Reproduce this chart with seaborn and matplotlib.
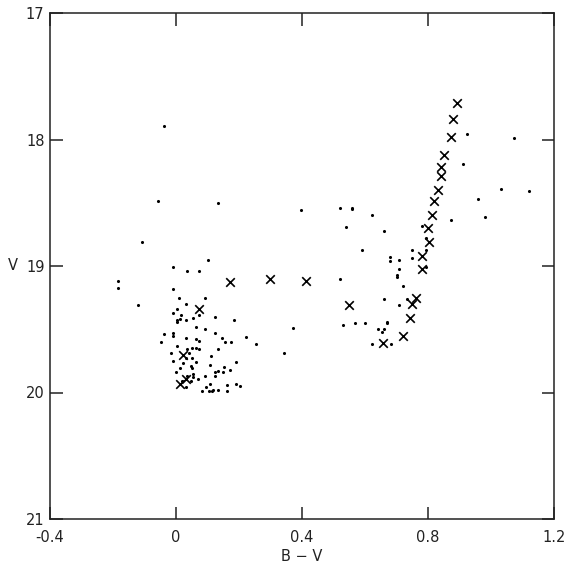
import pandas as pd
import seaborn as sns
import matplotlib
matplotlib.use("Agg")
import matplotlib.pyplot as plt

# crosses (B-V, V)
cross_bv = [0.893, 0.880, 0.872, 0.851, 0.841, 0.841, 0.831, 0.820, 0.812, 0.801,
            0.803, 0.782, 0.782, 0.762, 0.748, 0.743, 0.720, 0.658, 0.549, 0.413,
            0.298, 0.171, 0.073, 0.021, 0.032, 0.013]
cross_v = [17.71, 17.84, 17.98, 18.12, 18.22, 18.29, 18.40, 18.49, 18.60, 18.70,
           18.81, 18.92, 19.02, 19.25, 19.30, 19.41, 19.55, 19.61, 19.31, 19.12,
           19.10, 19.13, 19.34, 19.70, 19.89, 19.93]

# dots, blue end / turnoff region
dot_bv_a = [0.103, -0.009, 0.034, 0.074, -0.009, 0.092, 0.010, -0.120, 0.031, 0.002,
            0.073, -0.009, 0.015, 0.124, 0.053, 0.002, 0.002, 0.013, 0.032, 0.184,
            0.063, 0.092, -0.037, -0.009, -0.009, 0.124, 0.032, 0.063, 0.073, 0.145,
            0.222, -0.048, 0.156, 0.174, 0.253, 0.002, 0.050, 0.063, 0.073, 0.034,
            0.133, -0.017, 0.042, 0.111, 0.032, 0.050, -0.009, 0.192, 0.023, 0.063,
            0.048, 0.050, 0.013, 0.108, 0.153, 0.171, 0.134, 0.150, 0.124, 0.000,
            0.053, 0.053, 0.034, 0.092, 0.124, 0.069, 0.048, 0.018, 0.161, 0.192,
            0.203, 0.108, 0.031, 0.095, 0.082, 0.106, 0.113, 0.118, 0.134, 0.161]
dot_v_a = [18.95, 19.01, 19.04, 19.04, 19.18, 19.25, 19.25, 19.31, 19.30, 19.34,
           19.39, 19.37, 19.39, 19.40, 19.41, 19.43, 19.44, 19.42, 19.43, 19.43,
           19.48, 19.50, 19.54, 19.53, 19.55, 19.53, 19.57, 19.58, 19.59, 19.57,
           19.56, 19.60, 19.60, 19.60, 19.62, 19.63, 19.65, 19.65, 19.66, 19.66,
           19.66, 19.69, 19.69, 19.71, 19.73, 19.73, 19.75, 19.76, 19.77, 19.76,
           19.79, 19.81, 19.81, 19.78, 19.80, 19.82, 19.83, 19.84, 19.84, 19.84,
           19.85, 19.88, 19.87, 19.87, 19.87, 19.89, 19.91, 19.91, 19.94, 19.93,
           19.95, 19.93, 19.96, 19.96, 19.99, 19.99, 19.99, 19.98, 19.98, 19.99]

# dots, horizontal branch, giants, field
dot_bv_b = [-0.038, -0.058, 0.134, -0.109, -0.184, -0.184, 0.397, 0.371, 0.343,
            0.960, 0.520, 0.559, 0.559, 0.621, 0.781, 0.872, 0.540, 0.660, 0.793,
            0.590, 0.750, 0.794, 0.750, 0.679, 0.679, 0.709, 0.709, 0.793, 0.701,
            0.701, 0.520, 0.721, 0.660, 0.732, 0.709, 0.531, 0.568, 0.600, 0.671,
            0.671, 0.642, 0.660, 0.653, 0.621, 0.682,
            0.923, 1.074, 0.912, 1.031, 1.122, 0.982]
dot_v_b = [17.89, 18.49, 18.50, 18.81, 19.12, 19.17, 18.56, 19.49, 19.69,
           18.47, 18.54, 18.54, 18.55, 18.60, 18.68, 18.64, 18.69, 18.72, 18.78,
           18.87, 18.87, 18.87, 18.94, 18.93, 18.96, 18.95, 19.02, 19.01, 19.07,
           19.09, 19.10, 19.16, 19.26, 19.26, 19.31, 19.47, 19.45, 19.45, 19.44,
           19.45, 19.50, 19.50, 19.52, 19.62, 19.62,
           17.96, 17.99, 18.19, 18.39, 18.41, 18.61]

xticks = [-0.4, 0, 0.4, 0.8, 1.2]
xlabels = ["-0.4", "0", "0.4", "0.8", "1.2"]
yticks = [17, 18, 19, 20, 21]

dots = pd.DataFrame({"bv": dot_bv_a + dot_bv_b, "v": dot_v_a + dot_v_b})
crosses = pd.DataFrame({"bv": cross_bv, "v": cross_v})

sns.set_style("ticks")
plt.rcParams["font.family"] = ["DejaVu Sans"]

fig = plt.figure(figsize=(5.7, 5.67), dpi=100)
ax = fig.add_axes([50 / 570, 48 / 567, 504 / 570, 506 / 567])

sns.scatterplot(data=dots, x="bv", y="v", ax=ax, color="black", marker="o",
                s=5, linewidth=0)
sns.scatterplot(data=crosses, x="bv", y="v", ax=ax, color="black", marker="x",
                s=38, linewidth=1.2)

ax.set_xlim(-0.4, 1.2)
ax.set_ylim(21, 17)
ax.set_xticks(xticks)
ax.set_xticklabels(xlabels)
ax.set_yticks(yticks)
ax.tick_params(direction="in", length=9, width=1.1, color="#222222",
               top=True, right=True, labelsize=10.5, labelcolor="#222222")
ax.tick_params(axis="x", pad=8)
ax.tick_params(axis="y", pad=4)
for sp in ax.spines.values():
    sp.set_linewidth(1.1)
    sp.set_color("#222222")

ax.set_xlabel("B − V", fontsize=10.5, color="#222222")
ax.xaxis.set_label_coords(0.5, -0.06)
ax.set_ylabel("V", rotation=0, fontsize=10.5, color="#222222")
ax.yaxis.set_label_coords(-0.073, 0.5)
ax.yaxis.label.set_va("center")

fig.savefig("out.png", dpi=100)
